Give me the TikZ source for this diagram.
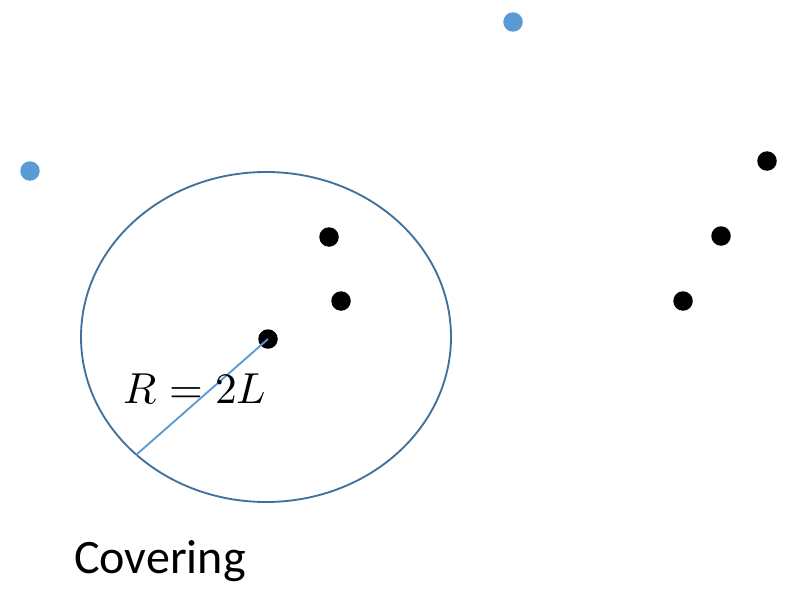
\documentclass[tikz,border=0pt]{standalone}
\usepackage{fontspec}
\usepackage{unicode-math}
\setmathfont{Latin Modern Math}
\newfontfamily\labelfont{Carlito}
\usetikzlibrary{positioning}
\definecolor{dotblue}{RGB}{91,155,213}
\definecolor{rimblue}{RGB}{65,113,156}
\tikzset{
  pt/.style={circle, fill=black, inner sep=0pt, minimum size=19.5\pxu},
  bluept/.style={pt, fill=dotblue},
  rim/.style={draw=rimblue, line width=1.6pt},
  radius line/.style={draw=dotblue, line width=1.6pt},
}
\newlength{\pxu}
\setlength{\pxu}{0.03cm}
\begin{document}
\begin{tikzpicture}[x=\pxu, y=-\pxu]
\useasboundingbox (0,0) rectangle (795,591);

% outlying points
\node[bluept] (b1) at (513,22) {};
\node[bluept] (b2) at (30,171) {};

% covering disc
\draw[rim] (266,337) ellipse [x radius=185, y radius=165];
\coordinate (rimpt) at (136,455);

\node[pt] (c0) at (268,339) {};
\node[pt] (c1) at (329,237) {};
\node[pt] (c2) at (341,301) {};

% far group
\node[pt] (f1) at (767,161) {};
\node[pt] (f2) at (721,236) {};
\node[pt] (f3) at (683,301) {};

\draw[radius line] (c0.center) -- (rimpt);
\node (rlabel) at (195,389) {\fontsize{37}{40}\selectfont $R=2L$};

\node[font=\labelfont\fontsize{41}{46}\selectfont, anchor=base west] (cov) at (70,573) {Covering};

\end{tikzpicture}
\end{document}
